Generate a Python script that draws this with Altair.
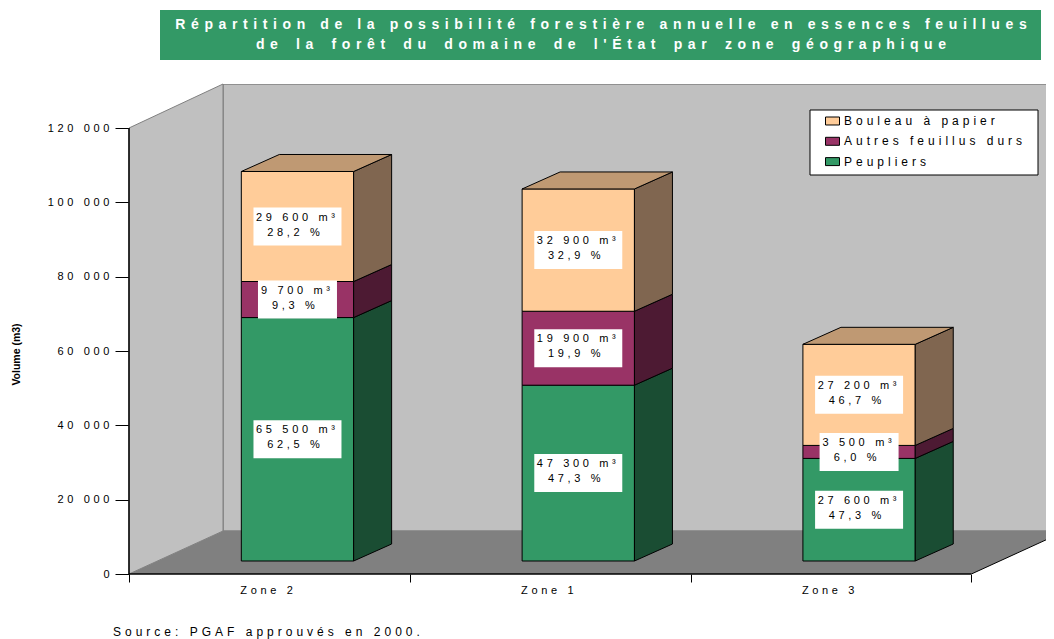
import altair as alt
import pandas as pd

ZONES = ["Zone 2", "Zone 1", "Zone 3"]
SPECIES = ["Bouleau à papier", "Autres feuillus durs", "Peupliers"]
PEUPLIERS = [65500, 47300, 27600]
AUTRES = [9700, 19900, 3500]
BOULEAU = [29600, 32900, 27200]
PCT_PEUPLIERS = ["62,5 %", "47,3 %", "47,3 %"]
PCT_AUTRES = ["9,3 %", "19,9 %", "6,0 %"]
PCT_BOULEAU = ["28,2 %", "32,9 %", "46,7 %"]
Y_TICKS = [0, 20000, 40000, 60000, 80000, 100000, 120000]
Y_LABELS = ["0", "20 000", "40 000", "60 000", "80 000", "100 000", "120 000"]
FRONT = {"Bouleau à papier": "#FFCC99", "Autres feuillus durs": "#993366", "Peupliers": "#339966"}
SIDE = {"Bouleau à papier": "#806650", "Autres feuillus durs": "#4D1A33", "Peupliers": "#1A4D33"}
TOP = "#BF9973"

FONT = "Liberation Sans"
THIN = "\u2009"
THIRD = "\u2004"
EN = "\u2002"


def spaced(s, gap=THIRD):
    return gap.join(s)


W, H = 917, 490
X_MAX = W / 280.8
Y_MAX = H / 446 * 120000
BAR_LEFT, BAR_W = 0.4, 0.4
DX, DY = 38 / 280.8, 17 / 446 * 120000
BASE = 13 / 446 * 120000
WALL_X, WALL_Y = 94 / 280.8, 43 / 446 * 120000

front, side, top, labels = [], [], [], []
for i, zone in enumerate(ZONES):
    cum = BASE
    x0, x1 = i + BAR_LEFT, i + BAR_LEFT + BAR_W
    for sp, vols, pcts in [(SPECIES[2], PEUPLIERS, PCT_PEUPLIERS), (SPECIES[1], AUTRES, PCT_AUTRES), (SPECIES[0], BOULEAU, PCT_BOULEAU)]:
        y0, y1 = cum, cum + vols[i]
        cum = y1
        front.append(dict(species=sp, x=x0, x2=x1, y=y0, y2=y1))
        sid = f"{zone}-{sp}"
        side.append(dict(id=sid, fill=SIDE[sp], x=x1, y=y0, y2=y1))
        side.append(dict(id=sid, fill=SIDE[sp], x=x1 + DX, y=y0 + DY, y2=y1 + DY))
        vol = f"{vols[i]:,}".replace(",", " ") + " m³"
        labels.append(dict(x=(x0 + x1) / 2, y=(y0 + y1) / 2, vol=spaced(vol), pct=spaced(pcts[i]), wide=vols[i] >= 10000))
    top.append(dict(id=zone, y=cum, x=x0, x2=x1))
    top.append(dict(id=zone, y=cum + DY, x=x0 + DX, x2=x1 + DX))

xs = alt.Scale(domain=[0, X_MAX], nice=False, zero=False)
ys = alt.Scale(domain=[0, Y_MAX], nice=False, zero=False)
labels_expr = "[" + ",".join(repr(spaced(l)) for l in Y_LABELS) + "][datum.value/20000]"

X = alt.X("x:Q", scale=xs, axis=alt.Axis(values=[0, 1, 2, 3], labels=False, title=None, domain=False, grid=False,
                                           tickColor="#000000", tickSize=8))
Y = alt.Y("y:Q", scale=ys, axis=alt.Axis(values=Y_TICKS, labelExpr=labels_expr, domain=False, grid=False,
                                          tickColor="#000000", tickSize=14, labelPadding=6, labelFont=FONT,
                                          labelFontSize=11, labelColor="#000000", title="Volume (m3)",
                                          titleFont=FONT, titleFontSize=10.5, titleFontWeight="bold", titleColor="#000000",
                                          titleX=-108, titleY=270))

wall_back = alt.Chart(pd.DataFrame([dict(x=WALL_X, x2=WALL_X + 3, y=WALL_Y, y2=Y_MAX)])).mark_rect(
    fill="#C0C0C0", stroke="#808080", strokeWidth=1.5, clip=True).encode(x=X, x2="x2:Q", y=Y, y2="y2:Q")
wall_left = alt.Chart(pd.DataFrame([dict(x=0, y=0, y2=120000), dict(x=WALL_X, y=WALL_Y, y2=Y_MAX)])).mark_area(
    fill="#C0C0C0", stroke="#808080", strokeWidth=1).encode(x=X, y=Y, y2="y2:Q")
floor = alt.Chart(pd.DataFrame([dict(y=0, x=0, x2=3), dict(y=WALL_Y, x=WALL_X, x2=WALL_X + 3)])).mark_area(
    orient="horizontal", fill="#808080", clip=True).encode(x=X, x2="x2:Q", y=Y)
floor_edge = alt.Chart(pd.DataFrame([dict(x=3, x2=3 + WALL_X, y=0, y2=WALL_Y)])).mark_rule(
    color="#000000", strokeWidth=1, clip=True).encode(x=X, x2="x2:Q", y=Y, y2="y2:Q")

axis_lines = alt.Chart(pd.DataFrame([dict(x=0, x2=0, y=0, y2=120000), dict(x=0, x2=3, y=0, y2=0)])).mark_rule(
    color="#000000", strokeWidth=1.5).encode(x=X, x2="x2:Q", y=Y, y2="y2:Q")

legend_box = alt.Chart(pd.DataFrame([dict(a=1)])).mark_rect(fill="#FFFFFF", stroke="#000000", strokeWidth=1).encode(
    x=alt.value(681), x2=alt.value(909), y=alt.value(26), y2=alt.value(91))

legend_expr = "{" + ",".join(f"{s!r}:{spaced(s)!r}" for s in SPECIES) + "}[datum.label]"
faces_front = alt.Chart(pd.DataFrame(front)).mark_rect(stroke="#000000", strokeWidth=1).encode(
    x=X, x2="x2:Q", y=Y, y2="y2:Q",
    color=alt.Color("species:N", scale=alt.Scale(domain=SPECIES, range=[FRONT[s] for s in SPECIES]),
                    sort=SPECIES,
                    legend=alt.Legend(title=None, orient="none", legendX=696, legendY=29.5, padding=0,
                                      labelFont=FONT, labelFontSize=12, labelLimit=400, labelExpr=legend_expr,
                                      labelColor="#000000", symbolType="M-1,-0.57H1V0.57H-1Z", symbolSize=196,
                                      symbolStrokeColor="#000000", symbolStrokeWidth=1, rowPadding=6.3)))
faces_side = alt.Chart(pd.DataFrame(side)).mark_area(stroke="#000000", strokeWidth=1).encode(
    x=X, y=Y, y2="y2:Q", fill=alt.Fill("fill:N", scale=None), detail="id:N")
faces_top = alt.Chart(pd.DataFrame(top)).mark_area(orient="horizontal", fill=TOP, stroke="#000000", strokeWidth=1).encode(
    x=X, x2="x2:Q", y=Y, detail="id:N")

lab = pd.DataFrame(labels)
boxes_w = alt.Chart(lab[lab.wide]).mark_rect(fill="#FFFFFF", width=88, height=38).encode(x=X, y=Y)
boxes_n = alt.Chart(lab[~lab.wide]).mark_rect(fill="#FFFFFF", width=79, height=38).encode(x=X, y=Y)
txt1 = alt.Chart(lab).mark_text(font=FONT, fontSize=11, color="#000000", dy=-9, dx=-2).encode(x=X, y=Y, text="vol:N")
txt2 = alt.Chart(lab).mark_text(font=FONT, fontSize=11, color="#000000", dy=6, dx=-4).encode(x=X, y=Y, text="pct:N")

zone_lab = alt.Chart(pd.DataFrame([dict(x=i + 0.49, t=spaced(z)) for i, z in enumerate(ZONES)])).mark_text(
    font=FONT, fontSize=11, color="#000000").encode(x=X, y=alt.value(507), text="t:N")

banner = alt.Chart(pd.DataFrame([dict(a=1)])).mark_rect(fill="#339966").encode(
    x=alt.value(31), x2=alt.value(912), y=alt.value(-74), y2=alt.value(-24))
title_df = pd.DataFrame([
    dict(t=spaced("Répartition de la possibilité forestière annuelle en essences feuillues", THIN * 2), py=-59),
    dict(t=spaced("de la forêt du domaine de l'État par zone géographique", THIN * 2).replace(" ", EN), py=-39)])
title = alt.Chart(title_df).mark_text(font=FONT, fontSize=14, fontWeight="bold", color="#FFFFFF").encode(
    x=alt.value(472), y=alt.Y("py:Q", scale=None), text="t:N")
source = alt.Chart(pd.DataFrame([dict(t=spaced("Source: PGAF approuvés en 2000."))])).mark_text(
    font=FONT, fontSize=12, color="#000000", align="left").encode(x=alt.value(-16), y=alt.value(548), text="t:N")

layers = [wall_back, wall_left, floor, floor_edge, axis_lines, legend_box, faces_front, faces_side, faces_top,
          boxes_w, boxes_n, txt1, txt2, zone_lab, banner, title, source]

chart = alt.layer(*layers).properties(
    width=W, height=H, padding={"left": 121, "top": 76, "right": 0, "bottom": 72},
    autosize=alt.AutoSizeParams(type="none"), background="#FFFFFF"
).configure_view(stroke=None)

chart.save("out.html", embed_options={"renderer": "svg", "actions": False})
